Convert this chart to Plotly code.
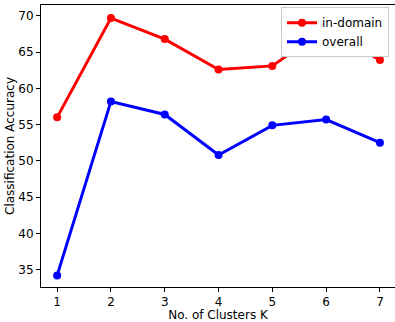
import plotly.graph_objects as go

clusters = [1, 2, 3, 4, 5, 6, 7]
in_domain = [56.0, 69.7, 66.8, 62.6, 63.1, 68.3, 63.9]
overall = [34.2, 58.2, 56.4, 50.8, 54.9, 55.7, 52.5]
x_ticks = [1, 2, 3, 4, 5, 6, 7]
y_ticks = [35, 40, 45, 50, 55, 60, 65, 70]

fig = go.Figure()
fig.add_trace(go.Scatter(x=clusters, y=in_domain, mode="lines+markers", name="in-domain",
                         line=dict(color="#ff0000", width=3), marker=dict(size=8, color="#ff0000")))
fig.add_trace(go.Scatter(x=clusters, y=overall, mode="lines+markers", name="overall",
                         line=dict(color="#0000ff", width=3), marker=dict(size=8, color="#0000ff")))

axis_common = dict(showgrid=False, zeroline=False, showline=True, linecolor="black", linewidth=1,
                   ticks="outside", ticklen=4, tickwidth=1, tickcolor="black", mirror=True,
                   automargin=False,
                   tickfont=dict(family="DejaVu Sans", size=12, color="black"))
fig.update_xaxes(range=[0.7, 7.28], tickvals=x_ticks,
                 title=dict(text="No. of Clusters K", font=dict(family="DejaVu Sans", size=12, color="black"), standoff=2),
                 **axis_common)
fig.update_yaxes(range=[32.6, 71.5], tickvals=y_ticks,
                 title=dict(text="Classification Accuracy", font=dict(family="DejaVu Sans", size=12, color="black"), standoff=1),
                 **axis_common)

fig.update_layout(width=395, height=322, margin=dict(l=41, r=0, t=5, b=35, autoexpand=False),
                  plot_bgcolor="white", paper_bgcolor="white",
                  font=dict(family="DejaVu Sans", size=12, color="black"),
                  legend=dict(x=0.678, y=0.992, xanchor="left", yanchor="top",
                              bgcolor="white", bordercolor="#cccccc", borderwidth=1,
                              font=dict(family="DejaVu Sans", size=12, color="black"),
                              tracegroupgap=0, itemwidth=30))
fig.write_html("out.html", config={"displayModeBar": False},
               post_script="document.body.style.margin='0';document.body.style.overflow='hidden';")
